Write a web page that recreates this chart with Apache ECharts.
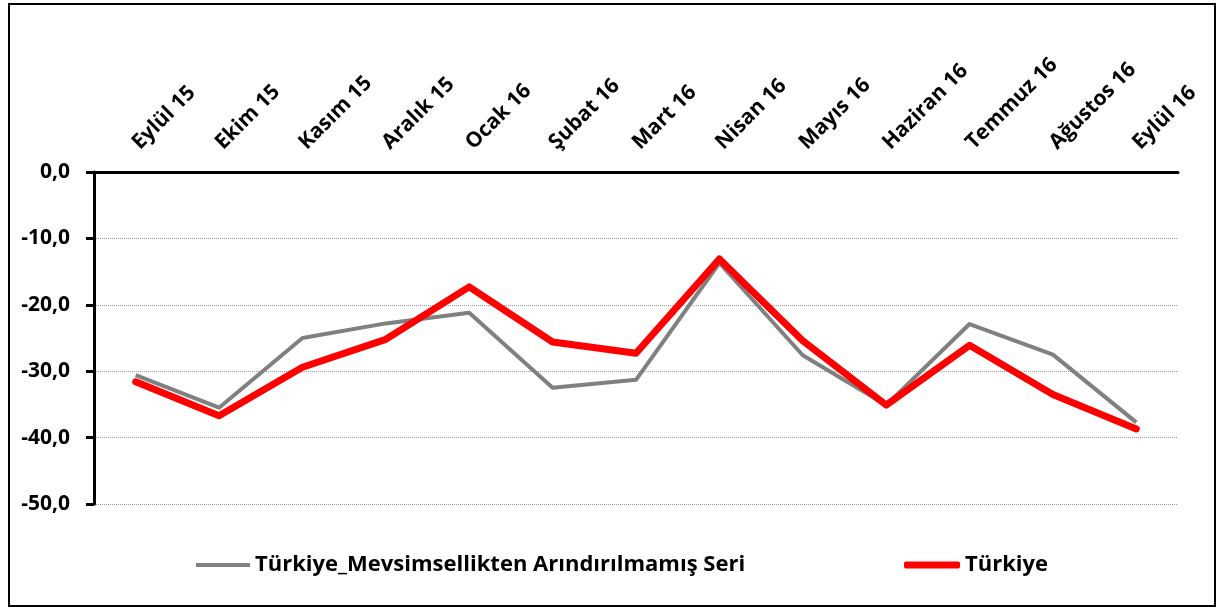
<!DOCTYPE html>
<html>
<head>
<meta charset="utf-8">
<script src="https://cdn.jsdelivr.net/npm/echarts@6/dist/echarts.min.js"></script>
<style>
  html, body { margin: 0; padding: 0; background: #fff; }
  #main { width: 1217px; height: 608px; }
</style>
</head>
<body>
<div id="main"></div>
<script>
// aylar
var months = ['Eylül 15', 'Ekim 15', 'Kasım 15', 'Aralık 15', 'Ocak 16', 'Şubat 16', 'Mart 16',
    'Nisan 16', 'Mayıs 16', 'Haziran 16', 'Temmuz 16', 'Ağustos 16', 'Eylül 16'];

// mevsimsellikten arındırılmamış seri (gri)
var hamSeri = [-30.6, -35.5, -25.0, -22.8, -21.2, -32.5, -31.3, -13.7, -27.6, -35.1, -22.9, -27.5, -37.7];

// Türkiye (kırmızı)
var turkiye = [-31.6, -36.7, -29.4, -25.2, -17.3, -25.6, -27.3, -13.1, -25.4, -35.1, -26.1, -33.5, -38.7];

var yTicks = [0, -10, -20, -30, -40, -50];

var nameHam = 'Türkiye_Mevsimsellikten Arındırılmamış Seri';
var nameTr = 'Türkiye';

var font = '"Open Sans", "Liberation Sans", sans-serif';

var myChart = echarts.init(document.getElementById('main'));

var option = {
    backgroundColor: '#ffffff',
    animation: false,
    graphic: [{
        type: 'rect',
        shape: { x: 9, y: 4, width: 1206, height: 602 },
        style: { fill: 'none', stroke: '#000', lineWidth: 2 },
        silent: true
    }],
    grid: {
        left: 94,
        right: 39,
        top: 172,
        bottom: 104
    },
    legend: [{
        data: [nameHam],
        left: 191,
        top: 549,
        icon: 'rect',
        itemWidth: 54,
        itemHeight: 4,
        itemGap: 6,
        textStyle: { color: '#000', fontWeight: 'bold', fontSize: 22, fontFamily: font }
    }, {
        data: [nameTr],
        left: 899,
        top: 549,
        icon: 'roundRect',
        itemWidth: 56,
        itemHeight: 7,
        textStyle: { color: '#000', fontWeight: 'bold', fontSize: 22, fontFamily: font }
    }],
    xAxis: {
        type: 'category',
        position: 'top',
        data: months,
        boundaryGap: true,
        axisLine: { lineStyle: { color: '#000', width: 3 } },
        axisTick: { inside: true, length: 8, lineStyle: { color: '#000', width: 3 } },
        axisLabel: {
            interval: 0,
            rotate: 45,
            margin: 26,
            color: '#000',
            fontWeight: 'bold',
            fontSize: 21,
            fontFamily: font
        },
        splitLine: { show: false }
    },
    yAxis: {
        type: 'value',
        min: -50,
        max: 0,
        interval: 10,
        axisLine: { show: true, lineStyle: { color: '#000', width: 3 } },
        axisTick: { show: true, length: 8, lineStyle: { color: '#000', width: 3 } },
        axisLabel: {
            margin: 24,
            color: '#000',
            fontWeight: 'bold',
            fontSize: 21,
            fontFamily: font,
            formatter: function (v) {
                return v.toFixed(1).replace('.', ',');
            }
        },
        splitLine: { lineStyle: { color: '#9a9a9a', width: 1, type: 'dotted' } }
    },
    series: [{
        name: nameHam,
        type: 'line',
        data: hamSeri,
        symbol: 'none',
        lineStyle: { color: '#808080', width: 4, join: 'round' },
        itemStyle: { color: '#808080' },
        z: 2
    }, {
        name: nameTr,
        type: 'line',
        data: turkiye,
        symbol: 'none',
        lineStyle: { color: '#ff0000', width: 7, join: 'round', cap: 'round' },
        itemStyle: { color: '#ff0000' },
        z: 3
    }]
};

myChart.setOption(option);
</script>
</body>
</html>
